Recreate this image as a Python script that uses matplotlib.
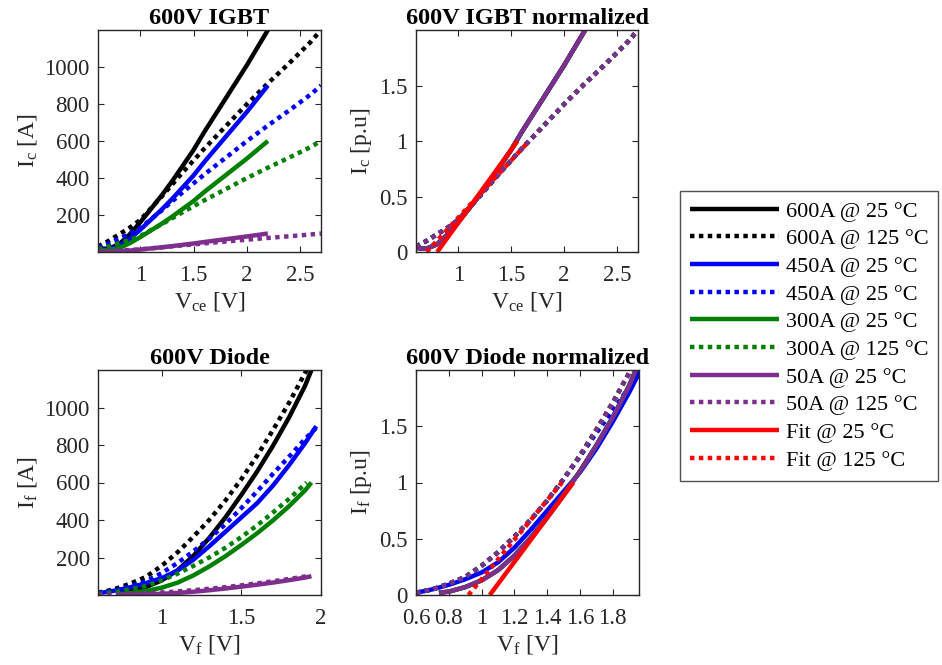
import numpy as np
import matplotlib
matplotlib.use('Agg')
import matplotlib.pyplot as plt

plt.rcParams['font.family'] = 'Liberation Serif'
plt.rcParams['mathtext.fontset'] = 'custom'
plt.rcParams['mathtext.rm'] = 'Liberation Serif'
plt.rcParams['mathtext.it'] = 'Liberation Serif:italic'
plt.rcParams['mathtext.bf'] = 'Liberation Serif:bold'

# ---------------- data ----------------
rated = [600, 450, 300, 50]          # A, used for p.u. normalisation

# IGBT, p.u. output characteristics
igbt_v25 = [0.60, 0.65, 0.70, 0.80, 0.90, 1.00, 1.10, 1.20, 1.30, 1.40,
            1.50, 1.60, 1.70, 1.80, 1.90, 2.00, 2.10, 2.20]
igbt_pu25 = [0.04, 0.03, 0.03, 0.07, 0.16, 0.27, 0.39, 0.51, 0.64, 0.78,
             0.92, 1.08, 1.23, 1.38, 1.53, 1.68, 1.84, 2.00]
igbt_v125 = [0.60, 0.70, 0.80, 0.90, 1.00, 1.20, 1.40, 1.60, 1.80, 2.00,
             2.20, 2.40, 2.60, 2.70]
igbt_pu125 = [0.05, 0.10, 0.16, 0.22, 0.29, 0.50, 0.72, 0.93, 1.13, 1.33,
              1.52, 1.70, 1.89, 2.00]

# Diode, p.u. forward characteristics
diode_v25 = [0.74, 0.80, 0.90, 1.00, 1.10, 1.20, 1.30, 1.40, 1.50, 1.60,
             1.70, 1.80, 1.90, 1.94]
diode_pu25 = [0.02, 0.03, 0.07, 0.13, 0.22, 0.35, 0.51, 0.69, 0.89, 1.10,
              1.33, 1.58, 1.86, 2.00]
diode_v25_450 = [0.60, 0.70, 0.80, 0.90, 1.00, 1.10, 1.20, 1.30, 1.40, 1.50,
                 1.60, 1.70, 1.80, 1.90, 1.97]
diode_pu25_450 = [0.02, 0.05, 0.09, 0.14, 0.20, 0.29, 0.42, 0.58, 0.75, 0.92,
                  1.09, 1.30, 1.54, 1.80, 2.00]
diode_v125 = [0.60, 0.70, 0.80, 0.90, 1.00, 1.10, 1.20, 1.30, 1.40, 1.50,
              1.60, 1.70, 1.80, 1.91]
diode_pu125 = [0.02, 0.05, 0.10, 0.16, 0.26, 0.38, 0.52, 0.67, 0.84, 1.03,
               1.24, 1.47, 1.71, 2.00]
diode_v125_450 = [0.60, 0.70, 0.80, 0.90, 1.00, 1.10, 1.20, 1.30, 1.40, 1.50,
                  1.60, 1.70, 1.80, 1.90, 1.98]
diode_pu125_450 = [0.02, 0.05, 0.10, 0.16, 0.26, 0.38, 0.52, 0.67, 0.84, 1.03,
                   1.23, 1.44, 1.64, 1.85, 2.00]

# linear fits (p.u.)
igbt_fit25 = ([0.80, 1.56], [0, 1])
igbt_fit125 = ([0.70, 1.67], [0, 1])
diode_fit25 = ([1.05, 1.56], [0, 1])
diode_fit125 = ([0.92, 1.49], [0, 1])

labels = ['600A @ 25 \u00b0C', '600A @ 125 \u00b0C',
          '450A @ 25 \u00b0C', '450A @ 25 \u00b0C',
          '300A @ 25 \u00b0C', '300A @ 125 \u00b0C',
          '50A @ 25 \u00b0C', '50A @ 125 \u00b0C',
          'Fit @ 25 \u00b0C', 'Fit @ 125 \u00b0C']

colors = ['k', (0, 0, 1), (0, 0.5, 0), (0.494, 0.184, 0.556)]
red = (1, 0, 0)
lw = 3.2
dot = (0, (1, 1))
tick_fs = 16.5
lab_fs = 17
tit_fs = 17.5
grey = '#262626'

fig = plt.figure(figsize=(9.42, 6.65), dpi=100)
W, H = 942., 665.
def box(x0, x1, y0, y1):
    return [x0 / W, 1 - y1 / H, (x1 - x0) / W, (y1 - y0) / H]

ax1 = fig.add_axes(box(98, 321, 30, 252))
ax2 = fig.add_axes(box(416, 638, 30, 252))
ax3 = fig.add_axes(box(98, 321, 370, 595))
ax4 = fig.add_axes(box(416, 639, 370, 595))

igbt_sets = [(igbt_v25, igbt_pu25, igbt_v125, igbt_pu125)] * 4
diode_sets = [(diode_v25, diode_pu25, diode_v125, diode_pu125),
              (diode_v25_450, diode_pu25_450, diode_v125_450, diode_pu125_450),
              (diode_v25, diode_pu25, diode_v125, diode_pu125),
              (diode_v25, diode_pu25, diode_v125, diode_pu125)]

for axa, axn, sets in [(ax1, ax2, igbt_sets), (ax3, ax4, diode_sets)]:
    handles = []
    for (v25, p25, v125, p125), r, c in zip(sets, rated, colors):
        axa.plot(v25, np.array(p25) * r, color=c, lw=lw, solid_capstyle='butt')
        axa.plot(v125, np.array(p125) * r, color=c, lw=lw, ls=dot,
                 dash_capstyle='butt')
        h1, = axn.plot(v25, p25, color=c, lw=lw, solid_capstyle='butt')
        h2, = axn.plot(v125, p125, color=c, lw=lw, ls=dot, dash_capstyle='butt')
        handles += [h1, h2]

ax2.plot(*igbt_fit25, color=red, lw=lw, solid_capstyle='butt')
ax2.plot(*igbt_fit125, color=red, lw=lw, ls=dot, dash_capstyle='butt')
h1, = ax4.plot(*diode_fit25, color=red, lw=lw, solid_capstyle='butt')
h2, = ax4.plot(*diode_fit125, color=red, lw=lw, ls=dot, dash_capstyle='butt')
handles += [h1, h2]

def style(ax, title, xl, yl):
    ax.set_title(title, fontsize=tit_fs, fontweight='bold', pad=4)
    ax.set_xlabel(xl, fontsize=lab_fs, color=grey, labelpad=3)
    ax.set_ylabel(yl, fontsize=lab_fs, color=grey, labelpad=4)
    ax.tick_params(direction='in', top=True, right=True, labelsize=tick_fs,
                   colors=grey, length=4, width=0.8, pad=6)
    ax.tick_params(axis='x', pad=9)
    for s in ax.spines.values():
        s.set_color(grey)
        s.set_linewidth(1.0)

ax1.set_xlim(0.6, 2.7)
ax1.set_ylim(0, 1200)
ax1.set_xticks([1, 1.5, 2, 2.5])
ax1.set_xticklabels(['1', '1.5', '2', '2.5'])
ax1.set_yticks([200, 400, 600, 800, 1000])
style(ax1, '600V IGBT', r'V$_{\mathrm{ce}}$ [V]', r'I$_{\mathrm{c}}$ [A]')

ax2.set_xlim(0.6, 2.7)
ax2.set_ylim(0, 2)
ax2.set_xticks([1, 1.5, 2, 2.5])
ax2.set_xticklabels(['1', '1.5', '2', '2.5'])
ax2.set_yticks([0, 0.5, 1, 1.5])
ax2.set_yticklabels(['0', '0.5', '1', '1.5'])
style(ax2, '600V IGBT normalized', r'V$_{\mathrm{ce}}$ [V]', r'I$_{\mathrm{c}}$ [p.u]')

ax3.set_xlim(0.6, 2.0)
ax3.set_ylim(0, 1200)
ax3.set_xticks([1, 1.5, 2])
ax3.set_xticklabels(['1', '1.5', '2'])
ax3.set_yticks([200, 400, 600, 800, 1000])
style(ax3, '600V Diode', r'V$_{\mathrm{f}}$ [V]', r'I$_{\mathrm{f}}$ [A]')

ax4.set_xlim(0.6, 1.96)
ax4.set_ylim(0, 2)
ax4.set_xticks([0.6, 0.8, 1.0, 1.2, 1.4, 1.6, 1.8])
ax4.set_xticklabels(['0.6', '0.8', '1', '1.2', '1.4', '1.6', '1.8'])
ax4.set_yticks([0, 0.5, 1, 1.5])
ax4.set_yticklabels(['0', '0.5', '1', '1.5'])
style(ax4, '600V Diode normalized', r'V$_{\mathrm{f}}$ [V]', r'I$_{\mathrm{f}}$ [p.u]')

leg = fig.legend(handles, labels, loc='upper left',
                 bbox_to_anchor=(680 / W, 1 - 191 / H), fontsize=16,
                 frameon=True, fancybox=False, edgecolor=grey,
                 handlelength=4.0, handletextpad=0.3, labelspacing=0.32,
                 borderpad=0.45, borderaxespad=0)
leg.get_frame().set_linewidth(1.0)

fig.savefig('out.png', dpi=100)
